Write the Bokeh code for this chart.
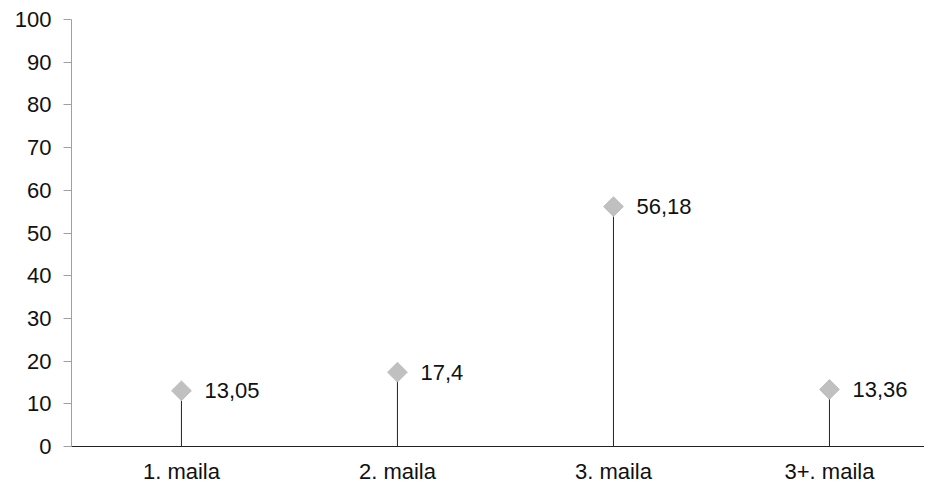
import math
from bokeh.plotting import figure
from bokeh.models import ColumnDataSource, FixedTicker, Range1d
from bokeh.core.properties import value
from bokeh.embed import file_html
from bokeh.resources import INLINE

categories = ["1. maila", "2. maila", "3. maila", "3+. maila"]
values = [13.05, 17.4, 56.18, 13.36]
y_ticks = [0, 10, 20, 30, 40, 50, 60, 70, 80, 90, 100]

xs = list(range(len(categories)))
labels = [str(v).replace(".", ",") for v in values]
src = ColumnDataSource(dict(x=xs, y=values, y0=[0] * len(values), lab=labels))

FONT = "Liberation Sans"
FS = "22px"

p = figure(width=924, height=486, output_backend="svg", toolbar_location=None,
           x_range=Range1d(-0.509, 3.44), y_range=Range1d(0, 100),
           min_border_left=71, min_border_right=0, min_border_top=19,
           min_border_bottom=34)
p.outline_line_color = None
p.grid.grid_line_color = None
p.background_fill_color = "white"

p.segment(x0="x", y0="y0", x1="x", y1="y", source=src, line_color="#222222", line_width=1)
p.scatter(x="x", y="y", source=src, marker="square", angle=math.pi / 4, size=14,
          fill_color="#C0C0C0", line_color="#C0C0C0")
p.text(x="x", y="y", text="lab", source=src, x_offset=23, text_baseline="middle",
       text_align="left", text_font=value(FONT), text_font_size=FS, text_color="#111111")

p.yaxis.ticker = FixedTicker(ticks=y_ticks)
p.yaxis.axis_line_color = "#A0A0A0"
p.yaxis.major_tick_line_color = "#A0A0A0"
p.yaxis.major_tick_out = 8
p.yaxis.major_tick_in = 0
p.yaxis.minor_tick_line_color = None
p.yaxis.major_label_standoff = 12
p.yaxis.major_label_text_font = FONT
p.yaxis.major_label_text_font_size = FS
p.yaxis.major_label_text_color = "#111111"

p.xaxis.ticker = FixedTicker(ticks=xs)
p.xaxis.major_label_overrides = {i: c for i, c in zip(xs, categories)}
p.xaxis.axis_line_color = "#222222"
p.xaxis.major_tick_line_color = None
p.xaxis.minor_tick_line_color = None
p.xaxis.major_label_standoff = 6
p.xaxis.major_label_text_font = FONT
p.xaxis.major_label_text_font_size = FS
p.xaxis.major_label_text_color = "#111111"

open("out.html", "w").write(file_html(p, INLINE))
